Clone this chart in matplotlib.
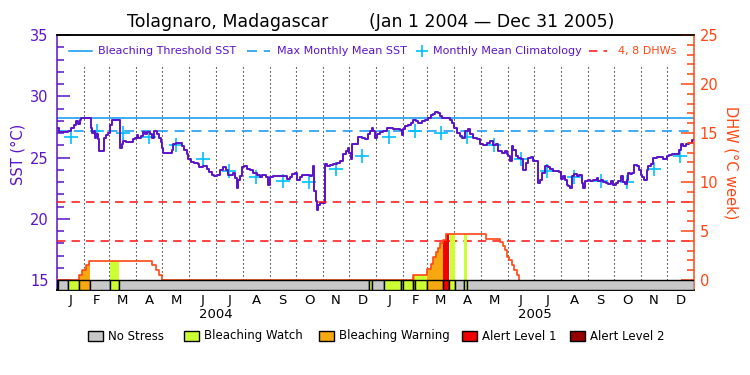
import numpy as np
import matplotlib
matplotlib.use('Agg')
import matplotlib.pyplot as plt
from matplotlib.ticker import MultipleLocator, FixedLocator
from matplotlib.patches import Rectangle
from matplotlib.lines import Line2D

# day numbers are counted from Jan 1 2004 (731 days shown)
sst_day = [0, 2, 13, 16, 19, 21.4, 23.7, 26, 27.5, 39, 40.5, 42, 43.6, 45, 46.7, 48,
           54.3, 55.8, 59, 60.8, 63.5, 72.3, 74.2, 76.1, 79, 87.6, 89.5, 91.4, 93.3,
           96.4, 98.3, 101, 103.3, 106.7, 108.6, 111.7, 114.4, 117, 119.3, 120.9, 122,
           131.6, 133.5, 136, 143, 146, 148.8, 150.7, 153.8, 157.6, 161.4, 163, 168,
           171.7, 174.4, 177.5, 180.5, 183.2, 187, 190.9, 193.5, 196.6, 199.7, 202.3,
           204.3, 206.2, 208, 210, 212.7, 215, 217.6, 221.5, 225.3, 229.1, 233, 234.9,
           237.9, 239.4, 241.7, 244.4, 248.2, 263.5, 267.4, 270, 273.1, 275, 278.8,
           281.5, 290.3, 292.2, 293.8, 295.3, 296.8, 298, 299.9, 301.8, 307.5, 309.4,
           313.3, 317.1, 320.9, 324.7, 328.6, 331.2, 333.5, 335.4, 337.4, 338.9, 341.2,
           345.8, 349.6, 353.4, 356.5, 359.2, 361.1, 363, 364.9, 366.8, 370.6, 374.5,
           378.3, 382.1, 386, 389.8, 393.6, 395.5, 397.4, 399.3, 403.2, 406.2, 408.9,
           411.6, 414.6, 418.5, 422.3, 426.1, 429.2, 431.8, 433.8, 437.6, 439.5, 441.4,
           451, 453.6, 455.9, 458.6, 462.4, 465.1, 468.2, 471.2, 473.9, 477.7, 481.6,
           485.4, 489.2, 493, 496.9, 500.7, 503.4, 506.4, 510.2, 514.1, 516, 517.9,
           519.4, 521.7, 523.6, 526.3, 529.4, 532.4, 535.1, 537.8, 540.9, 543.9, 546.6,
           550.4, 552.4, 554.3, 557, 560.1, 563.1, 565.8, 569.6, 573.5, 576.1, 578.4,
           581.1, 583, 584.9, 586.9, 588.8, 590.7, 593.7, 596.4, 599.1, 602.2, 604.1,
           606, 609, 611.7, 615.5, 619.4, 621.3, 624.3, 627, 629.7, 632.8, 635.8, 638.5,
           641.2, 644.2, 647.3, 650, 651.9, 653.8, 655.7, 657.6, 660.3, 662.6, 665.3,
           668, 670.2, 671.8, 674.1, 676.7, 678.7, 681.7, 684.4, 688.2, 695.9, 699.7,
           702.4, 706.2, 713.8, 716.1, 718.8, 721.5, 725.3, 728.4, 731]
sst_val = [27.40, 27.07, 27.20, 27.43, 27.65, 27.98, 27.76, 28.10, 28.20, 27.37, 27.00,
           27.20, 26.60, 26.94, 26.47, 25.57, 26.60, 26.80, 27.00, 27.65, 28.03, 25.79,
           26.12, 26.34, 26.28, 26.47, 26.61, 26.83, 26.61, 26.75, 27.07, 26.89, 27.10,
           26.94, 26.61, 27.16, 26.89, 26.61, 26.28, 25.79, 25.38, 25.65, 26.12, 26.20,
           25.93, 25.65, 25.25, 24.84, 24.64, 24.56, 24.43, 24.20, 24.29, 24.10, 23.82,
           23.61, 23.47, 23.60, 24.00, 24.20, 24.00, 23.61, 23.55, 23.74, 23.33, 22.51,
           23.20, 23.47, 24.20, 24.29, 24.10, 24.00, 23.74, 23.55, 23.39, 23.61, 23.55,
           23.39, 22.79, 23.39, 23.47, 23.28, 23.39, 23.66, 23.74, 23.20, 23.39, 23.55,
           23.47, 23.55, 24.29, 22.24, 21.42, 20.74, 21.15, 21.28, 24.43, 24.29, 24.37,
           24.48, 24.56, 24.70, 25.30, 25.52, 25.79, 25.38, 24.84, 26.07, 26.12, 26.66,
           26.61, 26.55, 26.89, 27.16, 27.37, 27.16, 26.61, 26.89, 27.10, 27.16, 27.37,
           27.43, 27.29, 27.32, 27.26, 26.83, 27.29, 27.56, 27.65, 27.84, 28.10, 27.98,
           27.84, 27.98, 28.10, 28.19, 28.47, 28.58, 28.74, 28.66, 28.38, 28.19, 28.10,
           27.84, 27.43, 27.02, 26.75, 26.61, 27.16, 27.29, 26.89, 26.61, 26.47, 26.07,
           26.01, 26.20, 26.34, 26.01, 26.07, 25.57, 25.38, 25.52, 25.25, 25.11, 24.70,
           25.93, 25.65, 25.11, 24.97, 24.84, 24.02, 24.56, 24.97, 25.03, 24.70, 24.75,
           22.92, 23.20, 23.74, 24.29, 24.20, 24.10, 23.93, 23.88, 23.82, 23.28, 23.47,
           23.20, 22.79, 22.65, 22.51, 23.47, 23.66, 23.47, 23.61, 22.92, 22.51, 23.11,
           23.20, 23.06, 23.20, 23.33, 23.11, 23.20, 23.00, 22.92, 22.84, 23.06, 22.73,
           22.92, 23.11, 23.47, 23.00, 22.84, 23.20, 23.74, 23.66, 23.74, 24.37, 24.29,
           24.02, 23.61, 23.39, 23.20, 24.02, 24.29, 24.43, 24.92, 25.03, 24.84, 25.11,
           25.19, 25.25, 25.65, 26.07, 25.93, 26.07, 26.20, 26.39, 26.47]

clim_val = [26.7, 27.2, 27.0, 26.7, 26.0, 24.9, 23.9, 23.4, 23.05, 23.0, 24.1, 25.15]
mmm = 27.2
threshold = 28.2
dhw_levels = [4, 8]

dhw_day = [0, 25.3, 29, 33, 37, 109, 114, 117, 120,
           408, 425, 429, 432, 435, 437.5, 440, 443.4, 446.2, 492.3, 508.4, 511.5,
           514.1, 516.8, 519.1, 521.8, 524.5, 527.5, 530.6]
dhw_val = [0, 0.5, 1.0, 1.5, 1.9, 1.5, 1.0, 0.5, 0,
           0.5, 1.1, 1.6, 2.3, 2.9, 3.3, 3.75, 4.1, 4.65, 4.2, 3.85, 3.5,
           3.05, 2.3, 2.05, 1.55, 1.0, 0.5, 0]

# alert level from each day until the next entry
status_day = [0, 1.5, 12.2, 25.3, 37.9, 60.8, 71.1, 358.4, 362, 375.3, 394.4,
              397.5, 408, 411, 425, 443, 450.3, 457, 467.1, 470.5]
status_lvl = [1, 0, 1, 2, 0, 1, 0, 1, 0, 1, 0, 1, 2, 1, 2, 3, 1, 0, 1, 0]
status_names = ['No Stress', 'Bleaching Watch', 'Bleaching Warning',
                'Alert Level 1', 'Alert Level 2']
status_colors = ['#c8c8c8', '#ccff33', '#f7a70f', '#f00000', '#960000']

month_letters = list('JFMAMJJASOND') * 2
month_len = [31, 29, 31, 30, 31, 30, 31, 31, 30, 31, 30, 31,
             31, 28, 31, 30, 31, 30, 31, 31, 30, 31, 30, 31]
years = ['2004', '2005']

purple = '#5a14c8'
orange = '#ff4614'
blue = '#0a96f0'
cyan = '#00c0ff'
red = '#ff1010'
ndays = sum(month_len)

month_start = np.cumsum([0] + month_len)[:-1]
month_mid = month_start + np.array(month_len) / 2.0
year_mid = [ndays / 4.0, ndays * 3 / 4.0]


def fx(x):
    return x / 750.0


def fy(y):
    return 1 - y / 375.0


fig = plt.figure(figsize=(7.5, 3.75), dpi=100)
ax = fig.add_axes([fx(57), fy(290), 637 / 750.0, 255 / 375.0])
ax.set_xlim(0, ndays)
ax.set_ylim(15 - 10 / 12.25, 35)
ax2 = ax.twinx()
ax2.set_ylim(-10 / 9.8, 25)

# month separators
ax.vlines(month_start[1:], 15, 32.6, colors='black', lw=0.8,
          linestyles=(0, (1, 2.6)), zorder=1)

ax.axhline(threshold, color=blue, lw=1.1, zorder=2)
ax.axhline(mmm, color=blue, lw=1.1, dashes=(6.5, 4.5), zorder=2)
ax.plot(month_mid, clim_val * 2, '+', color=cyan, ms=10, mew=1.2, zorder=3)
ax.step(sst_day, sst_val, where='post', color=purple, lw=1.4, zorder=4)

for lv in dhw_levels:
    ax2.axhline(lv, color=red, lw=1.1, dashes=(5.5, 4), zorder=1)

# fill below the DHW curve in the colour of the alert level
t = np.arange(0, ndays, 0.25)
dhw_t = np.array(dhw_val)[np.searchsorted(dhw_day, t, side='right') - 1]
lvl_t = np.array(status_lvl)[np.searchsorted(status_day, t, side='right') - 1]
for k in range(1, 5):
    ax2.fill_between(t, 0, dhw_t, where=(lvl_t == k) & (dhw_t > 0),
                     step='post', color=status_colors[k], lw=0, zorder=2)
ax2.step(dhw_day, dhw_val, where='post', color=orange, lw=1.2, zorder=3)

# status bar under the plot
bar_h = 10 / 9.8
ends = status_day[1:] + [ndays]
for s, e, k in zip(status_day, ends, status_lvl):
    ax2.add_patch(Rectangle((s, -bar_h), e - s, bar_h, facecolor=status_colors[k],
                            edgecolor='black', lw=1.0, zorder=5))

# axes styling
ax.yaxis.set_major_locator(MultipleLocator(5))
ax.yaxis.set_minor_locator(MultipleLocator(1))
ax.tick_params(axis='y', which='major', direction='in', length=9.5, width=1.1,
               colors=purple, labelsize=10.5, pad=6)
ax.tick_params(axis='y', which='minor', direction='in', length=5, width=1.1,
               colors=purple)
ax2.yaxis.set_major_locator(MultipleLocator(5))
ax2.yaxis.set_minor_locator(FixedLocator(range(0, 26)))
ax2.tick_params(axis='y', which='major', direction='in', length=9.5, width=1.1,
                colors=orange, labelsize=10.5, pad=4)
ax2.tick_params(axis='y', which='minor', direction='in', length=5, width=1.1,
                colors=orange)
ax.set_xticks(month_mid)
ax.set_xticklabels(month_letters)
ax.tick_params(axis='x', length=0, pad=3, labelsize=9.5)
for i, yr in enumerate(years):
    ax.text(year_mid[i], -0.098, yr, transform=ax.get_xaxis_transform(),
            ha='center', va='center', fontsize=9.5)

for a in (ax, ax2):
    a.spines['top'].set_linewidth(1.1)
    a.spines['bottom'].set_linewidth(1.1)
ax.spines['left'].set_color(purple)
ax.spines['left'].set_linewidth(1.1)
ax.spines['right'].set_visible(False)
ax2.spines['left'].set_visible(False)
ax2.spines['right'].set_color(orange)
ax2.spines['right'].set_linewidth(1.1)

ax.set_ylabel('SST (°C)', color=purple, fontsize=10.5, va='center')
ax.yaxis.set_label_coords(-0.0612, 0.53)
ax2.set_ylabel('DHW (°C week)', color=orange, fontsize=10.5, rotation=270,
               va='center', ha='center')
ax2.yaxis.set_label_coords(1.058, 0.5)

# title in two parts with a wide gap between them
fig.text(fx(227.5), fy(22), 'Tolagnaro, Madagascar', ha='center', va='center',
         fontsize=12.5)
fig.text(fx(491.5), fy(22), '(Jan 1 2004 \u2014 Dec 31 2005)', ha='center',
         va='center', fontsize=12.5)

# legend along the top of the plot
ly = fy(51)
fig.add_artist(Line2D([fx(69), fx(92)], [ly, ly], color=blue, lw=1.1))
fig.text(fx(98), ly, 'Bleaching Threshold SST', color=purple, fontsize=8, va='center')
fig.add_artist(Line2D([fx(247), fx(270)], [ly, ly], color=blue, lw=1.1,
                      dashes=(6.5, 4.5)))
fig.text(fx(277), ly, 'Max Monthly Mean SST', color=purple, fontsize=8, va='center')
fig.add_artist(Line2D([fx(421.7)], [ly], color=cyan, marker='+', ms=8, mew=1.2, lw=0))
fig.text(fx(433), ly, 'Monthly Mean Climatology', color=purple, fontsize=8, va='center')
fig.add_artist(Line2D([fx(589), fx(607)], [ly, ly], color=red, lw=1.1,
                      dashes=(5.5, 4)))
fig.text(fx(618), ly, '4, 8 DHWs', color=orange, fontsize=8, va='center')

# alert level legend below the plot
box_x = [88, 184, 319, 462, 570]
for x0, name, col in zip(box_x, status_names, status_colors):
    fig.add_artist(Rectangle((fx(x0), fy(341)), 15 / 750.0, 10 / 375.0,
                             facecolor=col, edgecolor='black', lw=1.0,
                             transform=fig.transFigure))
    fig.text(fx(x0 + 20), fy(336), name, fontsize=8.5, va='center')

fig.savefig('out.png', dpi=100)
